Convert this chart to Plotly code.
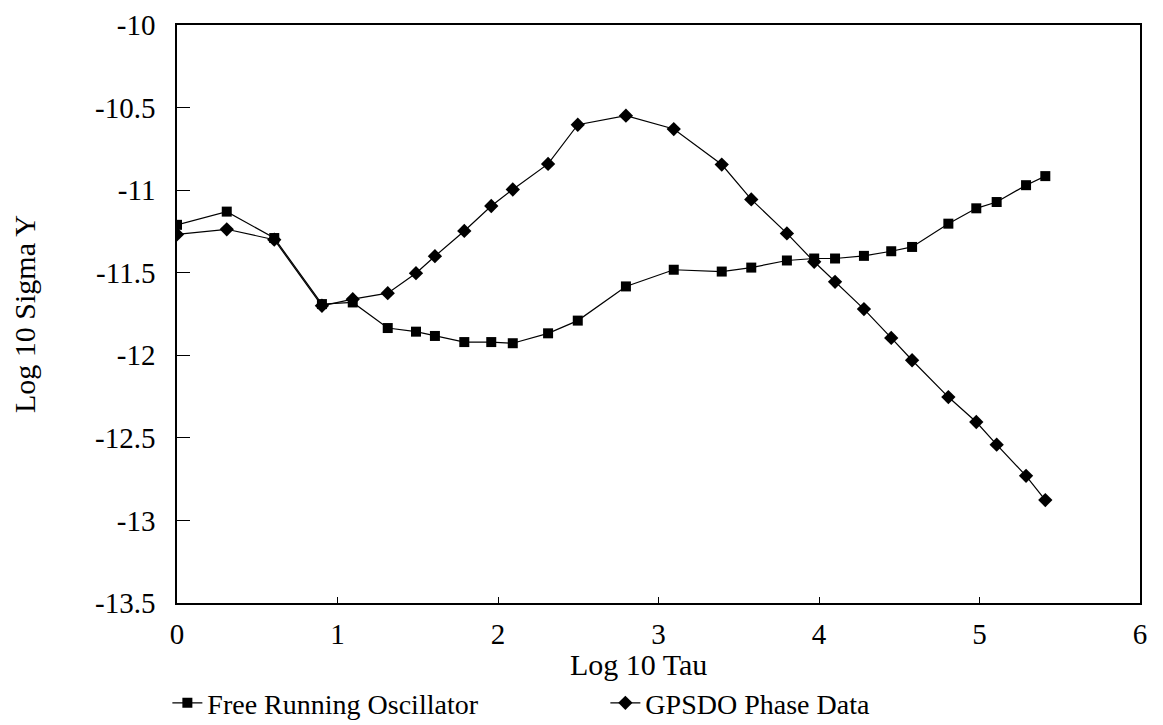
import plotly.graph_objects as go

log_tau = [0, 0.31, 0.606, 0.903, 1.095, 1.313, 1.489, 1.607, 1.79, 1.958, 2.092, 2.312,
           2.497, 2.797, 3.095, 3.394, 3.578, 3.80, 3.97, 4.10, 4.28, 4.45, 4.58, 4.806,
           4.98, 5.107, 5.29, 5.41]

free_running = [-11.21, -11.13, -11.29, -11.69, -11.68, -11.835, -11.857, -11.883, -11.92,
                -11.92, -11.927, -11.867, -11.79, -11.583, -11.482, -11.493, -11.469, -11.426,
                -11.414, -11.414, -11.398, -11.37, -11.344, -11.203, -11.11, -11.072, -10.97,
                -10.915]

gpsdo = [-11.268, -11.237, -11.30, -11.70, -11.66, -11.624, -11.503, -11.40, -11.247, -11.096,
         -10.996, -10.841, -10.604, -10.549, -10.63, -10.845, -11.056, -11.262, -11.434, -11.555,
         -11.72, -11.895, -12.03, -12.253, -12.404, -12.541, -12.73, -12.877]

x_ticks = [0, 1, 2, 3, 4, 5, 6]
y_ticks = [-10, -10.5, -11, -11.5, -12, -12.5, -13, -13.5]

FONT = "Liberation Serif, Times New Roman, serif"

fig = go.Figure()
fig.add_trace(go.Scatter(
    x=log_tau, y=free_running, mode="lines+markers", name="Free Running Oscillator",
    line=dict(color="black", width=1.2),
    marker=dict(symbol="square", size=10, color="black"),
))
fig.add_trace(go.Scatter(
    x=log_tau, y=gpsdo, mode="lines+markers", name="GPSDO Phase Data",
    line=dict(color="black", width=1.2),
    marker=dict(symbol="diamond", size=11, color="black"),
))

fig.update_layout(
    width=1163, height=725,
    margin=dict(l=169, r=31, t=17, b=130, autoexpand=False),
    paper_bgcolor="white", plot_bgcolor="white",
    font=dict(family=FONT, size=29, color="black"),
    showlegend=True,
    legend=dict(orientation="h", x=-0.01, xanchor="left", y=-0.13, yanchor="top",
                font=dict(family=FONT, size=28, color="black"),
                entrywidth=393, entrywidthmode="pixels",
                bgcolor="rgba(0,0,0,0)", itemwidth=30),
    xaxis=dict(range=[0, 6], tickvals=x_ticks, ticktext=[str(v) for v in x_ticks],
               showgrid=False, zeroline=False, showline=True, linecolor="black", linewidth=1.5,
               mirror=True, ticks="inside", ticklen=6, tickcolor="black",
               ticklabelstandoff=4, ticklabeloverflow="allow"),
    yaxis=dict(range=[-13.5, -10], tickvals=y_ticks, ticktext=[f"{v:g}" for v in y_ticks],
               showgrid=False, zeroline=False, showline=True, linecolor="black", linewidth=1.5,
               mirror=True, ticks="inside", ticklen=13, tickcolor="black",
               ticklabelstandoff=14, ticklabeloverflow="allow",
               title=dict(text="Log 10 Sigma Y", standoff=62, font=dict(size=30))),
    annotations=[dict(text="Log 10 Tau", xref="paper", yref="paper", x=0.479, y=0,
                      xanchor="center", yanchor="middle", yshift=-61, showarrow=False,
                      font=dict(family=FONT, size=30, color="black"))],
)

fig.write_html("out.html")
